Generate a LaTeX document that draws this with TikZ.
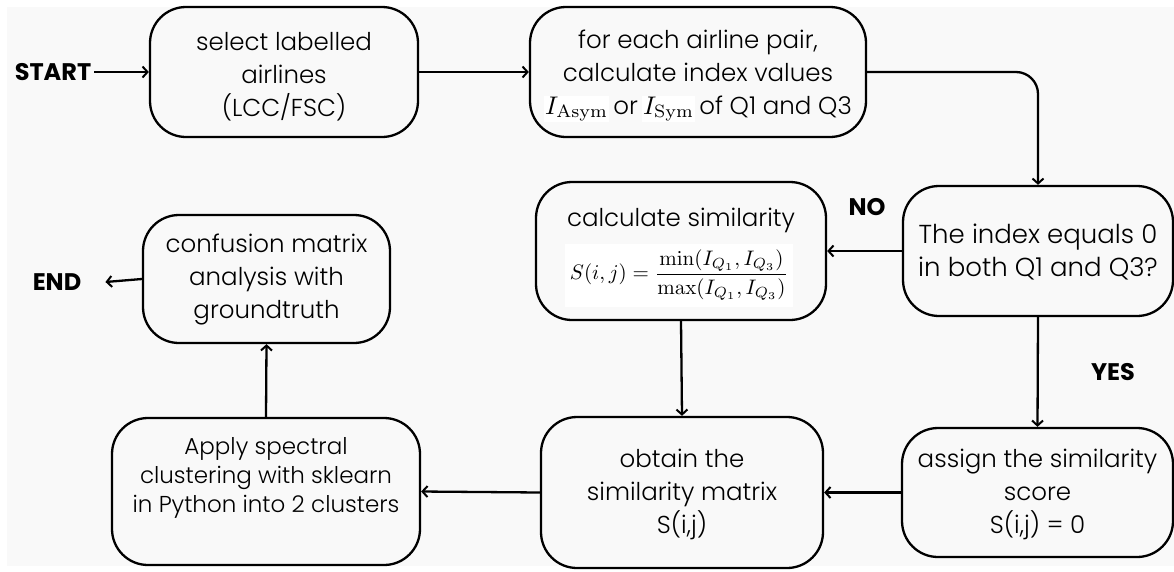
\documentclass[tikz,border=0pt]{standalone}
\usepackage[no-math]{fontspec}
\setmainfont{Poppins}[UprightFont=* Light, BoldFont=* Bold]
\usetikzlibrary{arrows.meta}
\definecolor{bgc}{HTML}{F9F9F9}
\newcommand{\bigmath}[1]{\colorbox{white}{\scalebox{2.55}{\fontsize{10}{12}\selectfont$#1$}}}
\begin{document}
\begin{tikzpicture}[x=1pt,y=-1pt,
  box/.style={draw=black, line width=2.3pt, rounded corners=36pt, align=center,
    font=\fontsize{24.5}{33}\selectfont, inner sep=0pt},
  txt/.style={align=center, font=\fontsize{24.5}{33}\selectfont, inner sep=0pt},
  lbl/.style={font=\fontsize{24}{28}\selectfont\bfseries, inner sep=3pt},
  arr/.style={line width=2.3pt, -{Straight Barb[length=5pt,width=11pt,line width=2pt]}},
  ]
\useasboundingbox (0,0) rectangle (1174,571);
\fill[white] (0,0) rectangle (1174,571);
\fill[bgc] (7,7) rectangle (1174,566);

% boxes
\node[box, minimum width=268pt, minimum height=130pt] (b1) at (284,72) {};
\node[txt] (t1) at (284,77) {select labelled\\airlines\\(LCC/FSC)};
\node[box, minimum width=336pt, minimum height=130pt] (b2) at (698,72) {};
\node[txt] (t2) at (698,76)
  {for each airline pair,\\calculate index values\\
   \setlength{\fboxsep}{1pt}\bigmath{I_{\mathrm{Asym}}}\,or\,\bigmath{I_{\mathrm{Sym}}}\,of Q1 and Q3};
\node[box, minimum width=290pt, minimum height=138pt] (b3) at (681,251) {};
\node[txt] (t3) at (681,220) {calculate similarity};
\node[fill=white, minimum width=228pt, minimum height=63pt, inner sep=0pt] (f3) at (679,275)
  {\scalebox{2.1}{$\displaystyle S(i,j)=\frac{\min(I_{Q_1},I_{Q_3})}{\max(I_{Q_1},I_{Q_3})}$}};
\node[box, minimum width=270pt, minimum height=130pt] (b4) at (1038,251) {};
\node[txt, font=\fontsize{26}{33}\selectfont] (t4) at (1038,252)
  {The index equals 0\\in both Q1 and Q3?};
\node[box, minimum width=247pt, minimum height=128pt] (b5) at (266.5,279) {};
\node[txt] (t5) at (266.5,280) {confusion matrix\\analysis with\\groundtruth};
\node[box, minimum width=282pt, minimum height=151pt] (b6) at (682,492.5) {};
\node[txt] (t6) at (682,494) {obtain the\\similarity matrix\\S(i,j)};
\node[box, minimum width=271pt, minimum height=129pt] (b7) at (1037.5,492.5) {};
\node[txt] (t7) at (1037.5,494) {assign the similarity\\score\\S(i,j) = 0};
\node[box, minimum width=308pt, minimum height=147pt] (b8) at (266,491.5) {};
\node[txt, font=\fontsize{23}{29}\selectfont] (t8) at (266,478)
  {Apply spectral\\clustering with sklearn\\in Python into 2 clusters};

% labels
\node[lbl] (start) at (53,72) {START};
\node[lbl, inner xsep=24pt] (end) at (57,282) {END};
\node[lbl] (no) at (867,207) {NO};
\node[lbl] (yes) at (1113,372) {YES};

% connectors
\draw[arr] (start.east) -- (b1.west);
\draw[arr] (b1.east) -- (b2.west);
\draw[arr, rounded corners=22pt] (b2.east) -| (b4.north);
\draw[arr] (b4.west) -- (b3.east);
\draw[arr] (b4.south) -- (b7.north);
\draw[arr] (b3.south) -- (b6.north);
\draw[arr] (b7.west) -- (b6.east);
\draw[arr] (b6.west) -- (b8.east);
\draw[arr] (b8.north) -- (b5.south);
\draw[arr] (b5.west) -- (end.east);
\end{tikzpicture}
\end{document}
